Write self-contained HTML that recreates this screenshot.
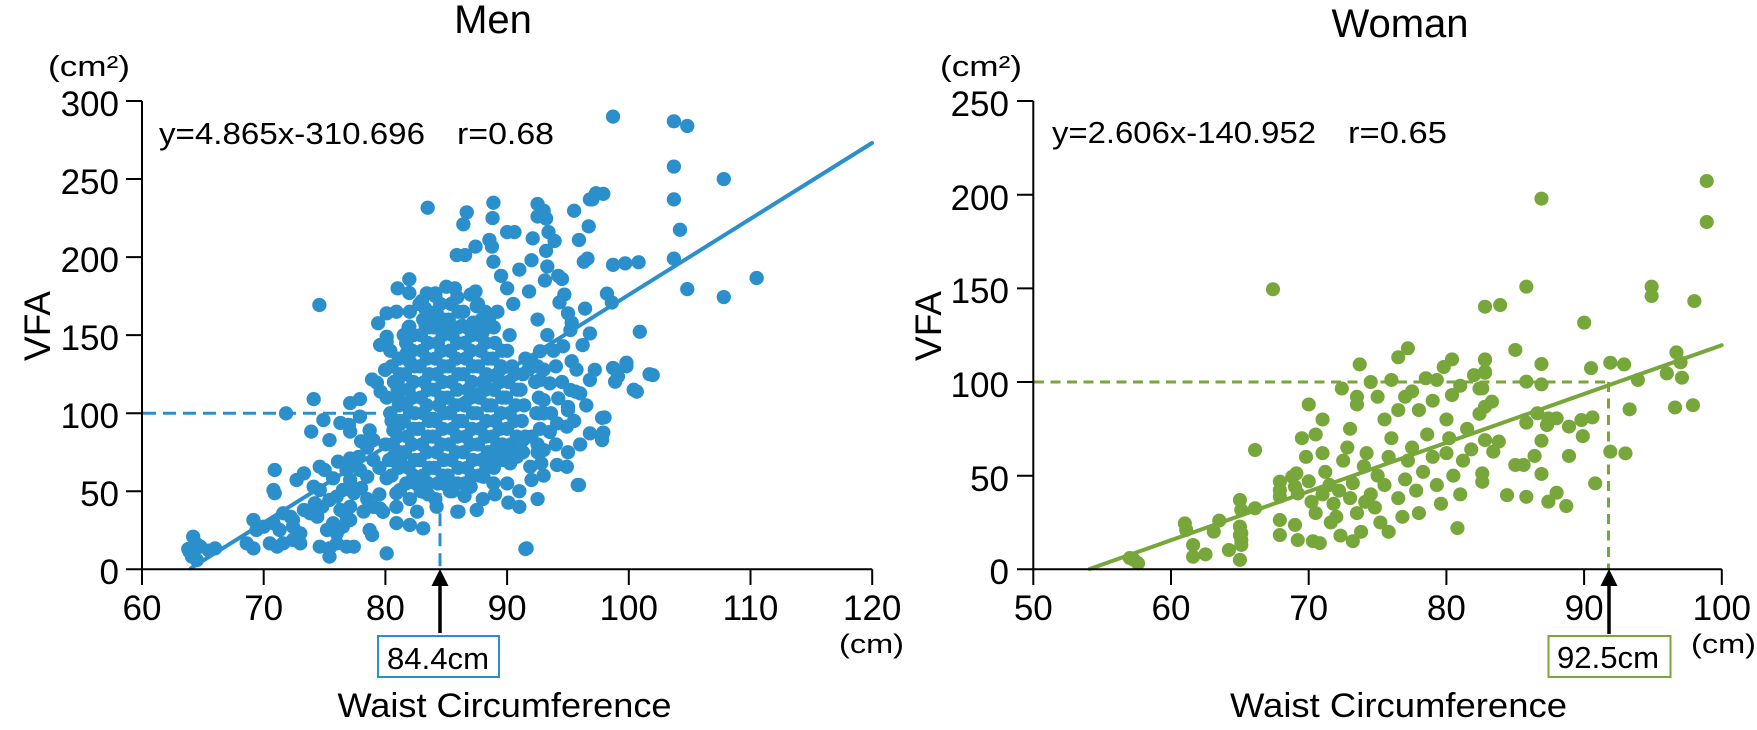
<!DOCTYPE html>
<html><head><meta charset="utf-8"><style>
html,body{margin:0;padding:0;background:#fff;}
svg{display:block;}
text{font-family:"Liberation Sans",Arial,sans-serif;fill:#000;}
</style></head><body>
<svg width="1757" height="730" viewBox="0 0 1757 730" xmlns="http://www.w3.org/2000/svg">
<rect width="1757" height="730" fill="#fff"/>
<!-- titles -->
<text x="493" y="33" font-size="40" text-anchor="middle">Men</text>
<text x="1400" y="37" font-size="40" text-anchor="middle">Woman</text>
<text x="48" y="76" font-size="29" textLength="82" lengthAdjust="spacingAndGlyphs">(cm²)</text>
<text x="940" y="76" font-size="29" textLength="82" lengthAdjust="spacingAndGlyphs">(cm²)</text>
<text transform="translate(50,326) rotate(-90)" font-size="37" text-anchor="middle">VFA</text>
<text transform="translate(941,326) rotate(-90)" font-size="37" text-anchor="middle">VFA</text>
<!-- equations -->
<text x="159" y="144" font-size="31" textLength="266" lengthAdjust="spacingAndGlyphs">y=4.865x-310.696</text>
<text x="457" y="144" font-size="31" textLength="97" lengthAdjust="spacingAndGlyphs">r=0.68</text>
<text x="1052" y="143" font-size="31" textLength="264" lengthAdjust="spacingAndGlyphs">y=2.606x-140.952</text>
<text x="1348" y="143" font-size="31" textLength="99" lengthAdjust="spacingAndGlyphs">r=0.65</text>

<!-- LEFT dashed -->
<g stroke="#2b8fcb" stroke-width="3" stroke-dasharray="13 7" fill="none">
<line x1="143" y1="413.2" x2="440" y2="413.2"/>
<line x1="440" y1="413.2" x2="440" y2="569"/>
</g>
<!-- RIGHT dashed -->
<g stroke="#77a63b" stroke-width="3" stroke-dasharray="10 6.5" fill="none">
<line x1="1034" y1="382" x2="1608.5" y2="382"/>
<line x1="1608.5" y1="382" x2="1608.5" y2="569"/>
</g>

<!-- LEFT points -->
<g transform="matrix(12.17 0 0 -1.561 -588.2 569.3)">
<path fill="none" stroke="#2b8fcb" stroke-width="14.2" stroke-linecap="round" vector-effect="non-scaling-stroke" d="
M64.2 20.9h.01M64.8 14.5h.01M63.9 11.3h.01M64.1 8.1h.01M64.5 5.9h.01M63.8 13h.01M64.5 16h.01M66 13.4h.01M65.5 12h.01
M68.6 16.6h.01M69.15 13.4h.01M69.15 31.6h.01M70 27.3h.01M69.4 25.2h.01M70.8 29.5h.01M71.3 25.2h.01M70.5 16.6h.01M71.1 14.5h.01M71.6 16.6h.01M72.4 18.8h.01M73 16.6h.01M72.4 27.3h.01M73 23h.01M71.6 35.9h.01M72.2 33.7h.01M72.4 31.6h.01M73.3 38h.01M73.8 35.9h.01M74.4 33.7h.01M74.6 14.5h.01M75.4 13.4h.01M76 16.6h.01M76.8 14.5h.01M77.4 14.5h.01M75.4 8.1h.01M76 23h.01M76.5 27.3h.01M77.1 31.6h.01M75.2 25.2h.01M75.7 29.5h.01M78.7 25.2h.01M78.9 22h.01M80.1 10.2h.01
M70.9 63.6h.01M70.8 50.8h.01M70.9 48.7h.01M73.3 61.5h.01M72.7 57.2h.01M74.1 52.9h.01M74.6 50.8h.01M74.2 42.3h.01M74.8 40.1h.01M75.4 44.4h.01M76 46.6h.01M76.5 50.8h.01M77.4 48.7h.01M76.3 38h.01M76.8 33.7h.01M77.1 40.1h.01M77.1 57.2h.01M77.9 63.6h.01M78.5 59.3h.01M74.6 65.7h.01M75 63.6h.01M75.7 58.3h.01M76.8 63.6h.01M76.1 69h.01M77.1 71h.01M77.8 72h.01M78 52h.01M78.5 45h.01M79 40h.01M79.5 48h.01M78.2 37h.01
M71.83 99.9h.01M74.1 109h.01M77.1 106.5h.01M77.9 109h.01M77.9 97.8h.01M74.9 95.6h.01M76.3 93.7h.01M77 92.5h.01M73.9 88.2h.01M77.1 88.2h.01M75.4 82.8h.01M78.7 89h.01M79 82.8h.01M74.57 169.3h.01
M79.56 143.7h.01M80.1 145.8h.01M81.75 138.4h.01M82 133h.01M79.97 127.7h.01M78.9 121.6h.01M79.3 119.5h.01M79.6 113.8h.01M80.1 110h.01M81.06 109h.01
M80.65 72.1h.01M81.2 70h.01M80.1 58.3h.01M80.9 48.7h.01M81.2 50.8h.01M79.56 38.9h.01M79.8 36.8h.01M80.9 40h.01M80.9 29.6h.01M82 28.4h.01M83.1 26.2h.01M82.6 36.9h.01M83.1 49.7h.01M84.2 40.1h.01M85 54h.01M86 36.9h.01M87.5 38h.01M87 52.9h.01M85.9 36.9h.01M80.65 89h.01M81.2 93h.01
M83.47 231.6h.01M86.68 228.7h.01M88.87 234.8h.01M88.54 211h.01M85.86 201.3h.01M86.54 201.3h.01M88.87 197h.01M81.96 185.8h.01M81 180h.01M81.96 177h.01M83.4 176.8h.01M84.1 176.8h.01M85 181h.01M85.7 180h.01M85.9 174.3h.01M87 176h.01M87.4 178h.01M87.5 168.5h.01M83.25 167.2h.01M80.1 164h.01M80.9 165h.01M79.4 157.6h.01M81.96 155.5h.01M83.3 156.5h.01M84 162h.01M85 154h.01M86.3 156h.01M80.1 149h.01M87.6 170h.01M88.2 165h.01M88.5 160h.01M88 152h.01M87.2 158h.01
M91.6 13.4h.01M90.1 42.7h.01M88.05 59.3h.01M88.87 55.1h.01M88.87 67.9h.01M90.24 67.9h.01M90.1 73.2h.01M89.1 77.5h.01M90.8 72.1h.01M91.3 82.8h.01M91.9 65.7h.01M92 57.2h.01M92.8 67.9h.01M93 76.4h.01M92.6 99.9h.01M93 99.9h.01M94.9 65.7h.01M95.9 54h.01M96.8 87.1h.01M97.8 82.8h.01M98 97.3h.01M94.9 91.4h.01M94.1 93.5h.01M95 101.9h.01M95 104h.01M95.2 114.9h.01M96 112.7h.01M95.6 113.8h.01M94.2 109.5h.01M93.5 119.1h.01M93 108.4h.01M92.7 121.3h.01M93 127.9h.01M91.75 127.9h.01M92 133.3h.01M92.7 139.7h.01M94.6 142.9h.01M95.3 133.3h.01M95.7 127.9h.01M96.8 121.3h.01M98.87 120.2h.01M99.8 132.3h.01M99.8 130.1h.01M100.65 113.8h.01M101.96 124.4h.01M100.9 152.2h.01M96.8 151.1h.01M95.2 153.3h.01
M98.7 290h.01M103.7 287h.01M104.8 284h.01M103.7 258h.01M103.7 237h.01M104.2 217.5h.01M103.7 199h.01M104.8 179.5h.01M107.8 250h.01M107.8 174.4h.01M110.5 186.6h.01M100.8 196.7h.01M99.7 196h.01M98.7 195h.01M97.9 240.5h.01M97.3 240.9h.01M97 237h.01M98.2 176.6h.01M98.6 170.9h.01M96.8 237h.01M96.7 219.7h.01M95.9 211h.01M96.3 197h.01M96.6 199h.01M95.5 229.7h.01M92.5 234h.01M93 229.7h.01M93.2 224.7h.01M93.4 216h.01M93.9 210.3h.01M93.2 204h.01M92.5 226h.01M92.1 212h.01M90 216h.01M90.6 216h.01M92 198h.01M93.3 194h.01M93.1 185h.01M94.2 188h.01M94.5 186h.01M94.3 171h.01M94.7 176h.01M95 164h.01M95.3 158h.01M96.4 167h.01M96.2 143.6h.01M97.2 127.8h.01M98.7 129h.01M99.1 123.5h.01M101.7 125h.01M100.4 115h.01M97.8 97h.01M97.9 87.6h.01M95.8 54h.01M94.1 66.8h.01M91.5 13h.01M88.75 206.7h.01M88.8 225h.01M87.4 206.7h.01M86.4 221h.01
M90 180h.01M89.5 188h.01M91 192h.01M90.5 170h.01M89.2 165h.01M91.8 178h.01M92.5 160h.01M93.3 150h.01M93.8 140h.01M94 130h.01M93.6 100h.01M94.5 120h.01M95.5 95h.01M96 80h.01M96.5 105h.01M95 75h.01M94 80h.01M93.5 88h.01M92 85h.01M92.5 75h.01M93 60h.01M91 50h.01M90 55h.01M89 48h.01M88 45h.01M86.5 47h.01M85.5 50h.01M83.5 48h.01M82.5 55h.01M82 45h.01M81 85h.01M80.5 95h.01M80 80h.01M79.5 65h.01M79 70h.01M78.5 78h.01M78 82h.01M80.5 130h.01M81 120h.01M81.5 150h.01M82 165h.01M83 172h.01M84.5 170h.01M86 165h.01M91 40h.01M92.5 45h.01
M80.5 60h.01M80.3 70h.01M80.6 80h.01M80.4 100h.01M80.7 120h.01M80.4 140h.01
M81.7 55h.01M81.9 65h.01M81.6 75h.01M81.8 85h.01M81.5 95h.01M81.7 105h.01M81.9 115h.01M81.6 125h.01M81.8 135h.01M81.7 145h.01M81.9 155h.01
M82.9 50h.01M83.1 60h.01M82.8 70h.01M83 80h.01M82.7 90h.01M83.1 100h.01M82.9 110h.01M83.2 120h.01M82.8 130h.01M83 140h.01M82.9 150h.01M83.1 160h.01M82.8 170h.01
M84.1 45h.01M84.3 55h.01M84 65h.01M84.2 75h.01M83.9 85h.01M84.1 95h.01M84.4 105h.01M84 115h.01M84.2 125h.01M84.1 135h.01M84.3 145h.01M84 155h.01M84.2 165h.01M84.1 175h.01
M85.3 50h.01M85.1 60h.01M85.4 70h.01M85.2 80h.01M85.5 90h.01M85.3 100h.01M85.1 110h.01M85.4 120h.01M85.2 130h.01M85.3 140h.01M85.5 150h.01M85.2 160h.01M85.4 170h.01
M86.5 55h.01M86.7 65h.01M86.4 75h.01M86.6 85h.01M86.3 95h.01M86.5 105h.01M86.8 115h.01M86.4 125h.01M86.6 135h.01M86.5 145h.01M86.7 155h.01M86.4 165h.01
M87.7 60h.01M87.9 70h.01M87.6 80h.01M87.8 90h.01M87.5 100h.01M87.7 110h.01M88 120h.01M87.6 130h.01M87.8 140h.01M87.7 150h.01M87.9 160h.01
M88.9 65h.01M89.1 75h.01M88.8 85h.01M89 95h.01M88.7 105h.01M88.9 115h.01M89.2 125h.01M88.8 135h.01M89 145h.01M88.9 155h.01
M90.1 70h.01M90.3 80h.01M90 90h.01M90.2 100h.01M89.9 110h.01M90.1 120h.01M90.4 130h.01M90 140h.01M90.2 150h.01
M91.3 75h.01M91.5 85h.01M91.2 95h.01M91.4 105h.01M91.1 115h.01M91.3 125h.01M91.5 135h.01
M92.5 80h.01M92.7 90h.01M92.4 100h.01M92.6 110h.01M92.3 120h.01M92.5 130h.01
M81.1 65h.01M81.2 75h.01M81 85h.01M81.2 95h.01M81.1 105h.01M81 115h.01M81.2 125h.01M81.1 135h.01
M82.3 60h.01M82.4 70h.01M82.2 80h.01M82.3 90h.01M82.4 100h.01M82.2 110h.01M82.3 120h.01M82.4 130h.01M82.2 140h.01M82.3 150h.01
M83.5 55h.01M83.6 65h.01M83.4 75h.01M83.5 85h.01M83.6 95h.01M83.4 105h.01M83.5 115h.01M83.6 125h.01M83.4 135h.01M83.5 145h.01M83.6 155h.01M83.5 165h.01
M84.7 60h.01M84.8 70h.01M84.6 80h.01M84.7 90h.01M84.8 100h.01M84.6 110h.01M84.7 120h.01M84.8 130h.01M84.6 140h.01M84.7 150h.01M84.8 160h.01
M85.9 55h.01M86 65h.01M85.8 75h.01M85.9 85h.01M86 95h.01M85.8 105h.01M85.9 115h.01M86 125h.01M85.8 135h.01M85.9 145h.01M86 155h.01
M87.1 60h.01M87.2 70h.01M87 80h.01M87.1 90h.01M87.2 100h.01M87 110h.01M87.1 120h.01M87.2 130h.01M87 140h.01M87.1 150h.01
M88.3 65h.01M88.4 75h.01M88.2 85h.01M88.3 95h.01M88.4 105h.01M88.2 115h.01M88.3 125h.01M88.4 135h.01M88.2 145h.01
M89.5 70h.01M89.6 80h.01M89.4 90h.01M89.5 100h.01M89.6 110h.01M89.4 120h.01M89.5 130h.01M89.6 140h.01
M90.7 75h.01M90.8 85h.01M90.6 95h.01M90.7 105h.01M90.8 115h.01M90.6 125h.01"/>
</g>

<!-- RIGHT points -->
<g transform="matrix(13.77 0 0 -1.873 344.8 569.3)">
<path fill="none" stroke="#77a63b" stroke-width="14" stroke-linecap="round" vector-effect="non-scaling-stroke" d="
M57.3 5h.01M57.6 3.2h.01M57 6h.01M61 24.5h.01M61.1 21h.01M61.6 13h.01M61.6 6.7h.01M63.1 20.1h.01M64.2 10.3h.01M65 18.3h.01M65.1 19.2h.01M65.1 15.6h.01M65.1 13h.01M65 37h.01M65.1 31.7h.01M65 22.8h.01M65 5h.01M66.1 32.6h.01M66.1 63.7h.01M67.4 149.5h.01M67.9 46.8h.01M67.9 42.3h.01M67.9 38.8h.01M67.9 26.3h.01M67.9 18.3h.01M68.8 49.4h.01M69.1 51.2h.01M69 44.1h.01M69.2 40.5h.01M69 23.7h.01M69.2 15.6h.01M62.5 8h.01M63.5 26h.01
M98.9 207.3h.01M98.9 185.4h.01M86.9 197.9h.01M85.8 150.9h.01M82.8 140.2h.01M83.9 141.1h.01M94.9 150.9h.01M94.9 145.9h.01M98 143.2h.01M90 131.7h.01M77.2 118h.01M76.5 113.2h.01M73.7 109.4h.01M80.4 112.1h.01M82.8 112.1h.01M85 117.1h.01M86.9 109.6h.01M90.5 107.4h.01M91.9 110.3h.01M92.9 109.4h.01M96.7 115.8h.01M97 110.5h.01M96 104.6h.01M97.1 102.3h.01M93.9 101.1h.01M76 101.1h.01M79.3 101.1h.01M82 103.7h.01M82.8 104.9h.01M82.4 96.5h.01M72.4 96.5h.01M73.5 92.1h.01M75 92.1h.01M77 92.1h.01M80.4 93h.01M85.8 100.2h.01M86.9 98.7h.01
M82.8 111.8h.01M82.8 105.5h.01M82.6 96.6h.01M83.3 89.5h.01M82.8 86.8h.01M82.4 83h.01M93.3 85.4h.01M96.6 86.4h.01M97.9 87.6h.01M86.6 83.3h.01M85.8 78.3h.01M87.3 77h.01M88 80.6h.01M87.4 80.6h.01M88.9 76.2h.01M89.8 79.7h.01M90.6 81.1h.01M89.9 71.1h.01M86.9 68.6h.01M82.8 69h.01M83.8 68.2h.01M83.4 62.8h.01M86.4 60.5h.01M88.9 60.5h.01M91.9 62.8h.01M93 61.9h.01M85 55.7h.01M85.6 55.7h.01M86.9 50.9h.01M82.6 51.2h.01M82.6 46.7h.01M90.8 45.9h.01M84.4 39.6h.01M85.8 38.7h.01M87.4 36.1h.01M88 40.9h.01M88.7 33.8h.01
M69.5 70h.01M69.8 60h.01M70 47h.01M70.2 36h.01M70.5 30h.01M70.3 15h.01M70.8 14h.01M71 40h.01M71.2 52h.01M71 62h.01M71.5 45h.01M71.8 35h.01M71.6 25h.01M72 28h.01M72.2 42h.01M72.5 58h.01M72.8 65h.01M72.3 18h.01M70 88h.01M70.5 72h.01M71 80h.01
M73 38h.01M73.2 46h.01M73.5 30h.01M73.8 20h.01M74 55h.01M74.2 62h.01M74.5 40h.01M74.8 33h.01M75 50h.01M75.2 25h.01M75.5 45h.01M75.8 60h.01M73 75h.01M73.5 88h.01M74.5 100h.01M75.5 80h.01M76 70h.01M76.5 38h.01M76.8 28h.01M77 48h.01M75.8 20h.01M73.2 15h.01M74.1 36h.01
M77.2 58h.01M77.5 65h.01M77.8 42h.01M78 30h.01M78.3 52h.01M78.6 72h.01M79 60h.01M79.3 45h.01M79.6 35h.01M80 62h.01M80.2 70h.01M80.5 50h.01M80.8 22h.01M81 40h.01M81.2 58h.01M81.5 75h.01M81.8 64h.01M78 85h.01M79 90h.01M80 80h.01M77.5 95h.01M76.5 85h.01M79.8 108h.01M78.5 102h.01M81 98h.01"/>
</g>

<!-- regression lines -->
<line x1="190.7" y1="568.3" x2="872" y2="143" stroke="#2b8fcb" stroke-width="4" stroke-linecap="round"/>
<line x1="1089.6" y1="569" x2="1721.7" y2="345.2" stroke="#77a63b" stroke-width="4" stroke-linecap="round"/>

<!-- LEFT axes -->
<g stroke="#000" stroke-width="2" fill="none">
<path d="M142 101V569.3H872.2"/>
<path d="M126 569.3H142M126 491.3H142M126 413.2H142M126 335.1H142M126 257.1H142M126 179H142M126 101H142"/>
<path d="M142 569.3V585M263.7 569.3V585M385.4 569.3V585M507.1 569.3V585M628.8 569.3V585M750.5 569.3V585M872.2 569.3V585"/>
</g>
<g font-size="35" text-anchor="end">
<text x="119" y="584">0</text>
<text x="119" y="506">50</text>
<text x="119" y="428">100</text>
<text x="119" y="350">150</text>
<text x="119" y="272">200</text>
<text x="119" y="194">250</text>
<text x="119" y="116">300</text>
</g>
<g font-size="35" text-anchor="middle">
<text x="142" y="620">60</text>
<text x="263.7" y="620">70</text>
<text x="385.4" y="620">80</text>
<text x="507.1" y="620">90</text>
<text x="628.8" y="620">100</text>
<text x="750.5" y="620">110</text>
<text x="872.2" y="620">120</text>
</g>
<text x="839" y="653" font-size="27" textLength="65" lengthAdjust="spacingAndGlyphs">(cm)</text>

<!-- RIGHT axes -->
<g stroke="#000" stroke-width="2" fill="none">
<path d="M1033.3 101V569.3H1721.8"/>
<path d="M1017 569.3H1033.3M1017 475.7H1033.3M1017 382H1033.3M1017 288.4H1033.3M1017 194.7H1033.3M1017 101H1033.3"/>
<path d="M1033.3 569.3V585M1171 569.3V585M1308.7 569.3V585M1446.4 569.3V585M1584.1 569.3V585M1721.8 569.3V585"/>
</g>
<g font-size="35" text-anchor="end">
<text x="1009" y="584">0</text>
<text x="1009" y="491">50</text>
<text x="1009" y="397">100</text>
<text x="1009" y="303">150</text>
<text x="1009" y="210">200</text>
<text x="1009" y="116">250</text>
</g>
<g font-size="35" text-anchor="middle">
<text x="1033.3" y="620">50</text>
<text x="1171" y="620">60</text>
<text x="1308.7" y="620">70</text>
<text x="1446.4" y="620">80</text>
<text x="1584.1" y="620">90</text>
<text x="1721.8" y="620">100</text>
</g>
<text x="1691" y="653" font-size="27" textLength="65" lengthAdjust="spacingAndGlyphs">(cm)</text>

<!-- arrows -->
<line x1="440" y1="580" x2="440" y2="633" stroke="#000" stroke-width="3.5"/>
<polygon points="440,569 448.5,586 431.5,586" fill="#000"/>
<line x1="1609" y1="580" x2="1609" y2="634" stroke="#000" stroke-width="3.5"/>
<polygon points="1609,569 1617.5,586 1600.5,586" fill="#000"/>

<!-- boxes -->
<rect x="378" y="636" width="121" height="41" fill="#fff" stroke="#2b8fcb" stroke-width="2"/>
<text x="387" y="669" font-size="31" textLength="102" lengthAdjust="spacingAndGlyphs">84.4cm</text>
<rect x="1548.5" y="636" width="122" height="41" fill="#fff" stroke="#77a63b" stroke-width="2"/>
<text x="1557" y="668" font-size="31" textLength="102" lengthAdjust="spacingAndGlyphs">92.5cm</text>

<!-- x titles -->
<text x="337.5" y="717" font-size="34" textLength="334" lengthAdjust="spacingAndGlyphs">Waist Circumference</text>
<text x="1230" y="717" font-size="34" textLength="337" lengthAdjust="spacingAndGlyphs">Waist Circumference</text>
</svg>
</body></html>
